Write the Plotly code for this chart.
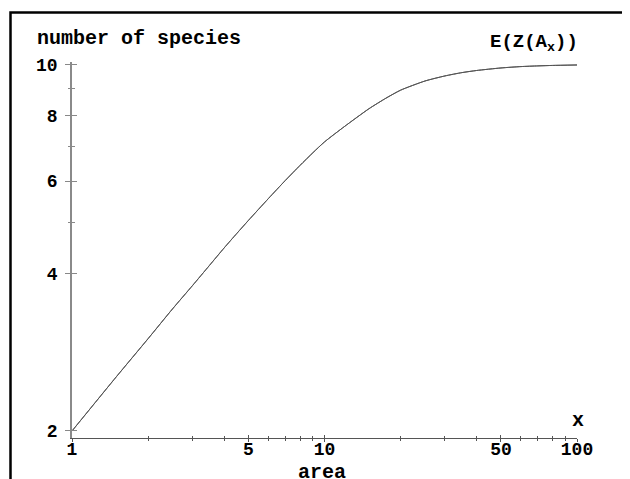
import plotly.graph_objects as go

# data (log-log)
area = [1, 1.5, 2, 2.5, 3, 3.5, 4, 4.5, 5, 6, 7, 8, 9, 10, 12, 15, 17.5, 20, 25,
        30, 35, 40, 50, 60, 70, 80, 100]
species = [2.0, 2.54, 3.0, 3.42, 3.79, 4.14, 4.47, 4.77, 5.05, 5.56, 6.02, 6.43, 6.8,
           7.13, 7.63, 8.25, 8.64, 8.95, 9.32, 9.53, 9.67, 9.76, 9.87, 9.93, 9.96,
           9.98, 10.0]

x_major = [1, 5, 10, 50, 100]
x_major_text = ["1", "5", "10", "50", "100"]
x_minor = [2, 3, 4, 6, 7, 8, 9, 20, 30, 40, 60, 70, 80, 90]
y_major = [2, 4, 6, 8, 10]
y_major_text = ["2", "4", "6", "8", "10"]
y_minor = [5, 7, 9]

FONT = "Liberation Mono"
OFF = 8  # page body margin
W, H = 630, 479
# desired plot box in page pixels: x 72..577, y 62..438
L = 72 - OFF
T = 62 - OFF
R = W - (577 - OFF)
B = H - (438 - OFF)
pw, ph = W - L - R, H - T - B

def px(xp):
    return (xp - OFF - L) / pw

def py(yp):
    return (H - B - (yp - OFF)) / ph

fig = go.Figure()
line = dict(color="#555555", width=1, shape="spline", smoothing=0.6)
fig.add_trace(go.Scatter(x=area, y=species, mode="lines", line=line,
                         showlegend=False, hoverinfo="skip"))
fig.add_trace(go.Scatter(x=area, y=species, mode="lines", line=line,
                         showlegend=False, hoverinfo="skip", xaxis="x2", yaxis="y2"))

xr = [0, 2]
yr = [0.2876, 1.0057]
tickfont = dict(family=FONT, size=18, color="black", weight="bold")

common_x = dict(type="log", range=xr, showgrid=False, zeroline=False,
                tickvals=x_major, tickcolor="#555555", tickwidth=1)
common_y = dict(type="log", range=yr, showgrid=False, zeroline=False,
                tickvals=y_major, tickcolor="#888888", tickwidth=1)

fig.update_layout(
    width=W, height=H,
    margin=dict(l=L, r=R, t=T, b=B),
    paper_bgcolor="white", plot_bgcolor="white",
    xaxis=dict(**common_x, ticktext=x_major_text, ticks="outside", ticklen=3,
               showline=True, linecolor="#555555", linewidth=1,
               tickfont=tickfont, ticklabelstandoff=-9,
               minor=dict(tickvals=x_minor, ticks="outside", ticklen=2,
                          tickcolor="#555555", tickwidth=1, showgrid=False)),
    xaxis2=dict(**common_x, overlaying="x", anchor="y", side="bottom",
                ticks="inside", ticklen=3, showticklabels=False, showline=False,
                minor=dict(tickvals=x_minor, ticks="inside", ticklen=2,
                           tickcolor="#555555", tickwidth=1, showgrid=False)),
    yaxis=dict(**common_y, ticktext=y_major_text, ticks="outside", ticklen=5,
               showline=True, linecolor="#8a8a8a", linewidth=1.5,
               tickfont=tickfont, ticklabelstandoff=4,
               minor=dict(tickvals=y_minor, ticks="outside", ticklen=2,
                          tickcolor="#888888", tickwidth=1, showgrid=False)),
    yaxis2=dict(**common_y, overlaying="y", anchor="x", side="left",
                ticks="inside", ticklen=5, showticklabels=False, showline=False,
                minor=dict(tickvals=y_minor, ticks="inside", ticklen=3,
                           tickcolor="#888888", tickwidth=1, showgrid=False)),
)

labfont = dict(family=FONT, size=20, color="black", weight="bold")
fig.add_annotation(text="number of species", xref="paper", yref="paper",
                   x=px(35), y=py(38), xanchor="left", yanchor="middle",
                   showarrow=False, font=labfont)
fig.add_annotation(text="E(Z(A<sub>x</sub>))", xref="paper", yref="paper",
                   x=px(580), y=py(43), xanchor="right", yanchor="middle",
                   showarrow=False, font=dict(family=FONT, size=19, color="black", weight="bold"))
fig.add_annotation(text="x", xref="paper", yref="paper",
                   x=px(578), y=py(420), xanchor="center", yanchor="middle",
                   showarrow=False, font=labfont)
fig.add_annotation(text="area", xref="paper", yref="paper",
                   x=px(322), y=py(472), xanchor="center", yanchor="middle",
                   showarrow=False, font=labfont)

# outer frame (top and left edges visible)
fig.add_shape(type="rect", xref="paper", yref="paper",
              x0=px(10.5), x1=px(660), y0=py(520), y1=py(12.5),
              line=dict(color="black", width=2.5), layer="above")

fig.write_html("out.html")
